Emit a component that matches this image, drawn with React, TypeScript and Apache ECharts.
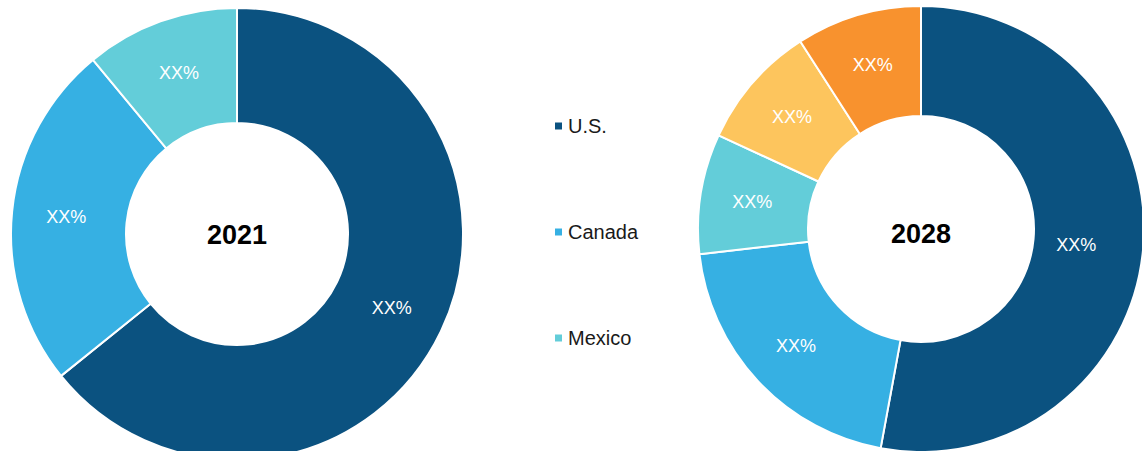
import React, { useEffect, useRef } from "react";
import * as echarts from "echarts";

const legendNames = ["U.S.", "Canada", "Mexico"];
const names2021 = ["U.S.", "Canada", "Mexico"];
const values2021 = [64.2, 24.8, 11.0];
const names2028 = ["U.S.", "Canada", "Mexico", "Segment 4", "Segment 5"];
const values2028 = [52.9, 20.3, 8.7, 9.0, 9.1];
const sliceLabel = "XX%";
const yearLabels = ["2021", "2028"];
const colors: Record<string, string> = {
  "U.S.": "#0b5280",
  Canada: "#36b0e3",
  Mexico: "#63cdd9",
  "Segment 4": "#fdc55d",
  "Segment 5": "#f8922e",
};

const FONT = "'Liberation Sans', Arial, sans-serif";

export default function App() {
  const ref = useRef<HTMLDivElement>(null);
  useEffect(() => {
    if (!ref.current) return;
    const chart = echarts.init(ref.current, null, { renderer: "svg" });
    const mk = (names: string[], vals: number[]) =>
      names.map((n, i) => ({ name: n, value: vals[i], itemStyle: { color: colors[n] } }));
    const baseSeries = {
      type: "pie",
      startAngle: 90,
      clockwise: true,
      avoidLabelOverlap: false,
      silent: true,
      itemStyle: { borderColor: "#ffffff", borderWidth: 2 },
      label: {
        show: true,
        position: "inside",
        formatter: () => sliceLabel,
        color: "#ffffff",
        fontSize: 18,
        fontFamily: FONT,
      },
      labelLine: { show: false },
      emphasis: { disabled: true },
    };
    chart.setOption({
      animation: false,
      backgroundColor: "#ffffff",
      legend: {
        data: legendNames,
        orient: "vertical",
        left: 548,
        top: 111,
        itemGap: 86,
        icon: "rect",
        itemWidth: 9,
        itemHeight: 9,
        selectedMode: false,
        textStyle: { color: "#1a1a1a", fontSize: 20, fontFamily: FONT },
      },
      graphic: [
        {
          type: "text",
          x: 237,
          y: 235,
          style: {
            text: yearLabels[0],
            textAlign: "center",
            textVerticalAlign: "middle",
            fontSize: 27,
            fontWeight: "bold",
            fontFamily: FONT,
            fill: "#000000",
          },
        },
        {
          type: "text",
          x: 921,
          y: 234,
          style: {
            text: yearLabels[1],
            textAlign: "center",
            textVerticalAlign: "middle",
            fontSize: 27,
            fontWeight: "bold",
            fontFamily: FONT,
            fill: "#000000",
          },
        },
      ],
      series: [
        {
          ...baseSeries,
          name: yearLabels[0],
          center: [237, 234],
          radius: [111, 226],
          data: mk(names2021, values2021),
        },
        {
          ...baseSeries,
          name: yearLabels[1],
          center: [921, 229],
          radius: [113, 223],
          data: mk(names2028, values2028),
          labelLayout: (p: any) => (p.dataIndex === 0 ? { dx: -15 } : {}),
        },
      ],
    });
    return () => chart.dispose();
  }, []);
  return (
    <div
      ref={ref}
      style={{ position: "fixed", left: 0, top: 0, width: 1142, height: 451 }}
    />
  );
}
